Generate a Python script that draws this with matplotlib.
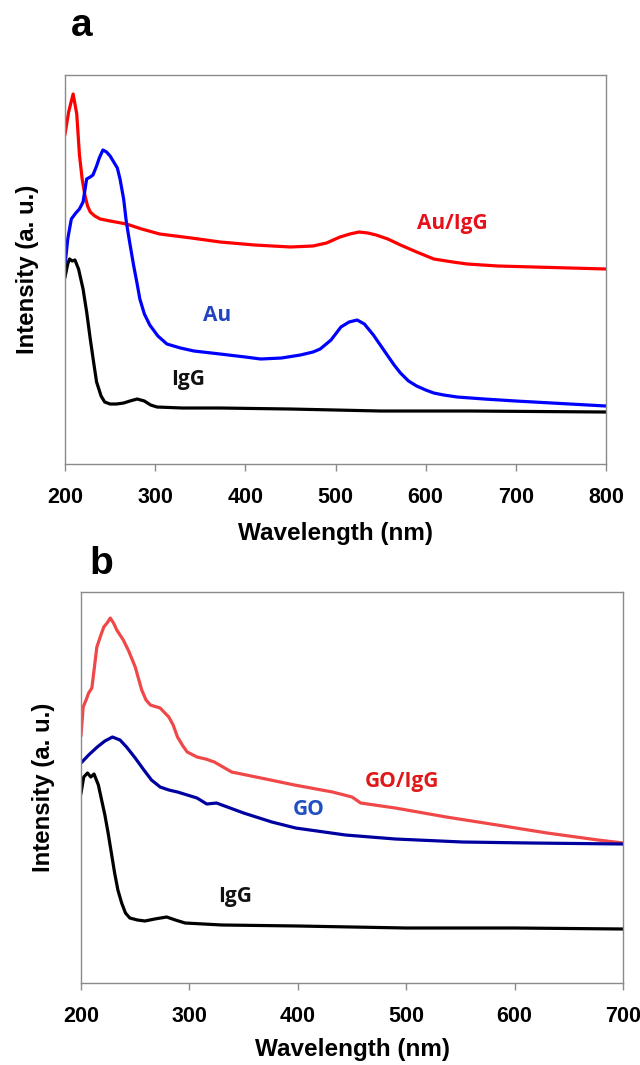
import matplotlib
matplotlib.use("Agg")
import matplotlib.pyplot as plt

# ---------------- data (panel a) ----------------
a_auigg_wl = [200, 204, 209, 213, 216, 219, 222, 225, 228, 233, 239, 250, 268, 285, 305, 340, 372, 410,
              450, 475, 490, 505, 516, 526, 536, 545, 558, 572, 590, 609, 630, 646, 680, 720, 760, 800]
a_auigg_I = [330, 352, 370, 350, 309, 285, 269, 258, 252, 248, 245, 243, 240, 235, 230, 226, 222, 219,
             217, 218, 221, 227, 230, 232, 231, 229, 225, 219, 212, 205, 202, 200, 198, 197, 196, 195]

a_au_wl = [200, 203, 207, 212, 216, 220, 224, 228, 231, 235, 238, 242, 246, 250, 254, 258, 261, 265, 268,
           272, 276, 280, 283, 288, 294, 303, 313, 328, 343, 372, 400, 417, 440, 461, 475, 483, 495, 506,
           515, 524, 532, 542, 555, 565, 572, 581, 590, 600, 609, 620, 635, 665, 700, 720, 760, 800]
a_au_I = [199, 225, 245, 251, 255, 262, 285, 287, 289, 298, 306, 314, 312, 308, 302, 296, 285, 265, 242,
          220, 199, 180, 165, 150, 139, 128, 120, 116, 113, 110, 107, 105, 106, 109, 112, 115, 124, 137,
          142, 144, 140, 129, 112, 99, 91, 83, 78, 74, 71, 69, 67, 65, 63, 62, 60, 58]

a_igg_wl = [200, 203, 205, 208, 211, 215, 220, 224, 228, 232, 235, 240, 244, 250, 257, 265, 272, 280, 288,
            295, 302, 330, 372, 450, 550, 650, 800]
a_igg_I = [187, 200, 205, 203, 204, 195, 175, 152, 125, 100, 82, 68, 62, 60, 60, 61, 63, 65, 63,
           59, 57, 56, 56, 55, 53, 53, 52]

# ---------------- data (panel b) ----------------
b_goigg_wl = [200, 202, 205, 207, 210, 214.6, 218, 221, 224, 227, 230, 233, 236, 239, 244, 250, 256, 260,
              264, 273, 281, 285, 289, 294, 298, 307, 315, 323, 339, 366, 397, 432, 450, 458, 490, 537,
              584, 630, 677, 700]
b_goigg_I = [248, 276, 284, 290, 295, 336, 347, 356, 360, 365, 360, 353, 348, 343, 332, 316, 293, 283,
             278, 275, 266, 258, 246, 237, 231, 226, 224, 221, 211, 205, 198, 191, 186, 180, 175, 166,
             158, 150, 143, 140]

b_go_wl = [200, 207, 215, 222, 229, 236, 242, 250, 258, 265, 273, 281, 289, 307, 316, 325, 350, 376, 398,
           444, 490, 552, 615, 700]
b_go_I = [220, 228, 236, 242, 246, 243, 236, 225, 213, 203, 196, 193, 191, 185, 179, 180, 170, 161, 155,
          148, 144, 141, 140, 139]

b_igg_wl = [200, 202.5, 206, 209, 212, 216, 219, 222, 225, 228, 231, 234, 237.5, 241, 245, 252, 259, 268,
            279, 287, 296, 330, 400, 500, 600, 700]
b_igg_I = [190, 206, 210, 206, 209, 198, 183, 168, 150, 130, 110, 93, 80, 70, 65, 63, 62, 64,
           66, 63, 60, 58, 57, 55, 55, 54]

a_xticks = [200, 300, 400, 500, 600, 700, 800]
b_xticks = [200, 300, 400, 500, 600, 700]

# ---------------- figure ----------------
fig = plt.figure(figsize=(6.4, 10.65), dpi=100)
axfont = "Liberation Sans"
lblfont = "Open Sans"


def style(ax, xticks, xlim, ylim, xlabelpad):
    ax.set_xlim(*xlim)
    ax.set_ylim(*ylim)
    ax.set_xticks(xticks)
    ax.set_xticklabels([str(t) for t in xticks], fontfamily=axfont, fontweight="bold", fontsize=15.5)
    ax.set_yticks([])
    for s in ax.spines.values():
        s.set_color("#8a8a8a")
        s.set_linewidth(1.0)
    ax.tick_params(axis="x", direction="out", length=5, width=1, color="#8a8a8a", pad=11.5)
    ax.set_xlabel("Wavelength (nm)", fontfamily=axfont, fontweight="bold", fontsize=17.5, labelpad=xlabelpad)
    ax.set_ylabel("Intensity (a. u.)", fontfamily=axfont, fontweight="bold", fontsize=17.3, labelpad=19)


ax1 = fig.add_axes([0.1016, 0.5643, 0.8453, 0.3653])
ax1.plot(a_auigg_wl, a_auigg_I, color="#ff0000", lw=2.3)
ax1.plot(a_au_wl, a_au_I, color="#0000ff", lw=2.3)
ax1.plot(a_igg_wl, a_igg_I, color="#000000", lw=2.3)
style(ax1, a_xticks, (200, 800), (0, 389), 10)
ax1.text(630, 240, "Au/IgG", color="#e8101a", fontfamily=lblfont, fontweight="bold", fontsize=15, ha="center", va="center")
ax1.text(369, 149, "Au", color="#2244c0", fontfamily=lblfont, fontweight="bold", fontsize=15, ha="center", va="center")
ax1.text(336, 85, "IgG", color="#111111", fontfamily=lblfont, fontweight="bold", fontsize=15, ha="center", va="center")
fig.text(82 / 640, 1 - 26 / 1065, "a", fontfamily=axfont, fontweight="bold", fontsize=28, ha="center", va="center")

ax2 = fig.add_axes([0.1266, 0.0770, 0.8469, 0.3671])
ax2.plot(b_goigg_wl, b_goigg_I, color="#f04848", lw=2.3)
ax2.plot(b_go_wl, b_go_I, color="#0000a0", lw=2.3)
ax2.plot(b_igg_wl, b_igg_I, color="#000000", lw=2.3)
style(ax2, b_xticks, (200, 700), (0, 391), 8)
ax2.text(496, 202, "GO/IgG", color="#e01818", fontfamily=lblfont, fontweight="bold", fontsize=15, ha="center", va="center")
ax2.text(410, 174, "GO", color="#2050c0", fontfamily=lblfont, fontweight="bold", fontsize=15, ha="center", va="center")
ax2.text(342, 87, "IgG", color="#111111", fontfamily=lblfont, fontweight="bold", fontsize=15, ha="center", va="center")
fig.text(101 / 640, 1 - 564 / 1065, "b", fontfamily=axfont, fontweight="bold", fontsize=28, ha="center", va="center")

fig.savefig("out.png", dpi=100)
